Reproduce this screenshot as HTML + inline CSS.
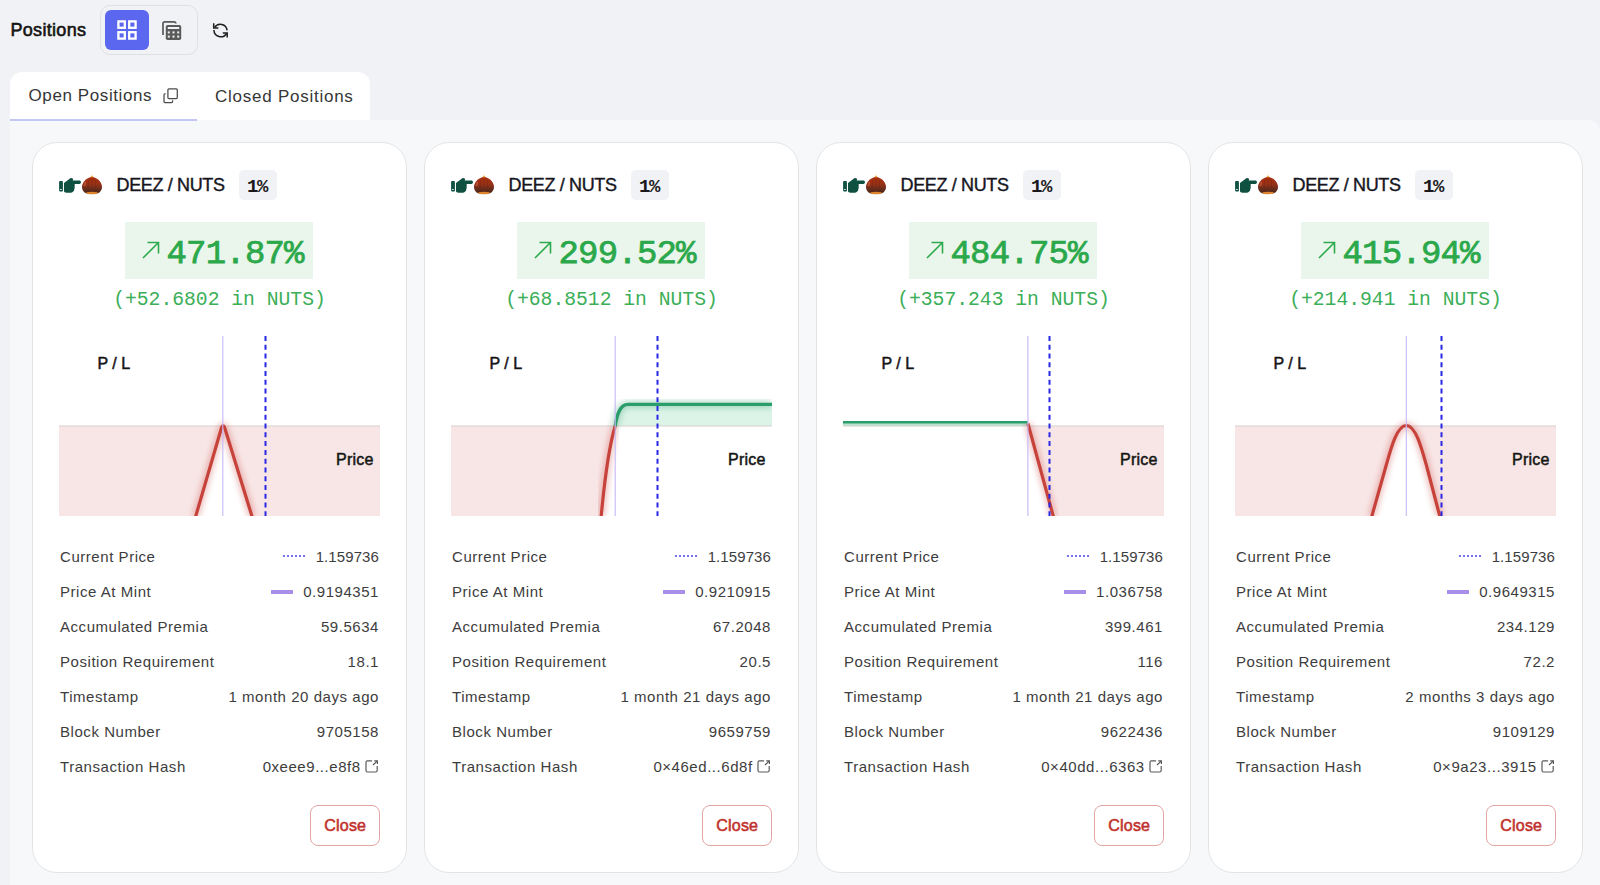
<!DOCTYPE html>
<html><head><meta charset="utf-8"><style>
*{box-sizing:border-box;margin:0;padding:0}
html,body{width:1600px;height:885px;overflow:hidden;background:#f1f2f5;font-family:"Liberation Sans",sans-serif;color:#222}
.title{position:absolute;left:10.5px;top:18px;font-size:18px;font-weight:400;-webkit-text-stroke:0.6px #141414;color:#141414;letter-spacing:0.3px;line-height:24px}
.tog{position:absolute;left:100px;top:5px;width:98px;height:50px;border:1px solid #dfe0e4;border-radius:10px}
.tog .on{position:absolute;left:4px;top:4px;width:44px;height:40px;background:#5b67ef;border-radius:6px}
.tog svg{position:absolute}
.refresh{position:absolute;left:211.5px;top:21.5px}
.tabs{position:absolute;left:10px;top:72px;width:360px;height:48px;background:#fff;border-radius:12px 12px 0 0}
.tab1{position:absolute;left:18.5px;top:13px;font-size:17px;letter-spacing:0.6px;color:#363636;line-height:22px}
.tab2{position:absolute;left:205px;top:14px;font-size:17px;letter-spacing:0.75px;color:#363636;line-height:22px}
.uline{position:absolute;left:10px;top:119px;width:187px;height:2px;background:#c3c6f7}
.panel{position:absolute;left:10px;top:120px;width:1590px;height:780px;background:#f7f8fa;border-top-right-radius:12px}
.card{position:absolute;top:142px;width:375px;height:731px;background:#fff;border:1px solid #e3e4e6;border-radius:25px}
.emo{position:absolute;left:25px;top:32px;width:48px;height:22px}
.hand{position:absolute;left:0px;top:1px}
.nut{position:absolute;left:23px;top:0px}
.pair{position:absolute;left:83.5px;top:31.5px;font-size:18px;font-weight:400;-webkit-text-stroke:0.4px #16161e;color:#16161e;line-height:20px;letter-spacing:-0.35px}
.badge{position:absolute;left:206px;top:27px;width:38px;height:30px;background:#f1f2f6;border-radius:5px}
.badge{font-family:"Liberation Mono",monospace;font-weight:700;font-size:19px;line-height:30px;text-align:center;color:#1a1a1a;letter-spacing:-1.3px;padding-right:2px;padding-top:1.5px;}
.pbox{position:absolute;left:92px;top:79px;width:188px;height:57px;background:#eaf6ec}
.arrow{position:absolute;left:16px;top:18px}
.pct{position:absolute;left:41.5px;top:14px;font-family:"Liberation Mono",monospace;font-weight:400;-webkit-text-stroke:0.75px #2aa84a;font-size:34px;line-height:36px;color:#2aa84a;letter-spacing:-0.8px}
.amt{position:absolute;left:0;width:373px;top:146px;text-align:center;font-family:"Liberation Mono",monospace;font-size:19.7px;line-height:22px;color:#3bae58}
.chartwrap{position:absolute;left:26px;top:193px;width:321px;height:180px}
.chart{position:absolute;left:0;top:0}
.pl{position:absolute;left:38.5px;top:19px;font-size:16px;font-weight:400;-webkit-text-stroke:0.5px #151515;color:#151515;line-height:18px;letter-spacing:0px}
.price{position:absolute;right:6.5px;top:114.5px;font-size:16px;font-weight:400;-webkit-text-stroke:0.5px #151515;color:#151515;line-height:18px;letter-spacing:0.2px}
.row{position:absolute;left:27px;width:319px;height:20px;font-size:15px;line-height:20px;color:#3d3d3d;letter-spacing:0.55px}
.row .lab{position:absolute;left:0;top:0;white-space:nowrap}
.row .val{position:absolute;right:0;top:0;white-space:nowrap;display:flex;align-items:center}
.dots{display:inline-block;width:23px;height:2px;margin-right:9.5px;margin-top:-1px;background-image:linear-gradient(90deg,#7474f0 50%,transparent 50%);background-size:4px 2px}
.bar{display:inline-block;width:22px;height:4px;margin-right:10px;background:#a78ee8}
.ext{margin-left:4.3px;margin-top:-2px}
.close{position:absolute;left:277px;top:662px;width:70px;height:41px;border:1px solid #e3a4a4;border-radius:8px;color:#c1302b;font-size:16px;font-weight:400;-webkit-text-stroke:0.55px #c1302b;text-align:center;line-height:40px;letter-spacing:0.2px;padding-left:0.5px}
</style></head><body>
<div class="title">Positions</div>
<div class="tog"><div class="on"></div>
<svg style="left:16px;top:14px" width="20" height="20" viewBox="0 0 20 20"><g fill="none" stroke="#fff" stroke-width="2.3"><rect x="1.4" y="1.4" width="6.4" height="6.4"/><rect x="12.2" y="1.4" width="6.4" height="6.4"/><rect x="1.4" y="12.2" width="6.4" height="6.4"/><rect x="12.2" y="12.2" width="6.4" height="6.4"/></g></svg>
<svg style="left:59.5px;top:13.5px" width="21" height="21" viewBox="0 0 21 21"><path d="M2,15 L2,3.6 Q2,1.8 3.8,1.8 L13,1.8 Q14.8,1.8 14.8,3.6" fill="none" stroke="#5a5a5a" stroke-width="1.7"/><rect x="4.8" y="5" width="15.4" height="15" rx="1.8" fill="#5a5a5a"/><rect x="6.8" y="7" width="11.4" height="2" fill="#f1f2f5"/><g fill="#f1f2f5"><rect x="6.8" y="11.4" width="2" height="2"/><rect x="11.5" y="11.4" width="2" height="2"/><rect x="16.2" y="11.4" width="2" height="2"/><rect x="6.8" y="15.6" width="2" height="2"/><rect x="11.5" y="15.6" width="2" height="2"/><rect x="16.2" y="15.6" width="2" height="2"/></g></svg>
</div>
<svg class="refresh" width="17" height="17" viewBox="0 0 17 17"><g fill="none" stroke="#1e1e1e" stroke-width="1.5"><path d="M2.6,5.4 A6.8,6.8 0 0 1 15.1,8.3"/><path d="M1.9,8.1 A6.8,6.8 0 0 0 14.6,11.3"/><path d="M1.7,1.3 L1.7,6 L6.4,6" stroke-linejoin="miter"/><path d="M10.8,11 L15.2,11 L15.2,15.6" stroke-linejoin="miter"/></g></svg>
<div class="tabs"><div class="tab1">Open Positions</div><div class="tab2">Closed Positions</div>
<svg style="position:absolute;left:153px;top:16px" width="16" height="16" viewBox="0 0 16 16"><g fill="none" stroke="#4a4a4a" stroke-width="1.25"><rect x="4.9" y="0.9" width="9.4" height="9.6" rx="1"/><path d="M2.6,5.6 Q1,5.6 1,7.2 L1,13.6 Q1,14.5 2,14.5 L8.6,14.5 Q9.6,14.5 9.6,13.5 L9.6,12.3"/></g></svg>
</div>
<div class="panel"></div>
<div class="uline"></div>
<div class="card" style="left:32px">
<div class="emo"><svg class="hand" width="24" height="20" viewBox="0 0 24 20"><g fill="#0f5141">
<rect x="1.1" y="5.1" width="3.8" height="10.3" rx="1"/>
<path d="M6,7 L11,3.2 Q13,1.2 14.8,2.6 Q15.6,3.6 14.6,4.6 L22,4.6 Q23,5.1 23,6.3 Q22.8,7.9 21.5,7.9 L16.6,7.9 Q17,9.5 16.6,10.6 Q17,12 16.3,13 Q16.5,14.6 15.2,15.6 Q14.2,16.8 12.5,16.8 L9,16.8 Q6.8,16.6 6,15.4 Z"/>
</g><rect x="1.8" y="13" width="2" height="1" fill="#fff" opacity="0.8"/></svg><svg class="nut" width="22" height="20" viewBox="0 0 22 20"><defs><linearGradient id="ng" x1="0" y1="0" x2="0" y2="1"><stop offset="0" stop-color="#ad2c0e"/><stop offset="0.45" stop-color="#963218"/><stop offset="0.8" stop-color="#5e2b1b"/><stop offset="1" stop-color="#4a271a"/></linearGradient></defs>
<path d="M11,1.5 C13,2.5 17,3.5 19,6.5 C20.5,8.5 21,10.5 21,12 C21,15.5 18.5,18.5 15,18.6 L7,18.6 C3.5,18.5 1,15.5 1,12 C1,10.5 1.5,8.5 3,6.5 C5,3.5 9,2.5 11,1.5 Z" fill="url(#ng)"/>
<path d="M4.8,17.4 Q11,16.2 17.2,17.4 Q16,19.3 11,19.3 Q6,19.3 4.8,17.4 Z" fill="#df8630"/>
<ellipse cx="11" cy="1.6" rx="1" ry="1.1" fill="#f2a43c"/>
<path d="M4.6,7 Q3.6,9 3.7,11" stroke="#e06a52" stroke-width="1.1" fill="none" opacity="0.75"/>
<path d="M7.5,5 L7.2,16.5 M14.5,5 L14.8,16.5 M11,3.5 L11,16.5" stroke="#5a1a0e" stroke-width="0.6" opacity="0.4"/>
</svg></div>
<div class="pair">DEEZ / NUTS</div>
<div class="badge">1%</div>
<div class="pbox"><svg class="arrow" width="20" height="20" viewBox="0 0 20 20"><path d="M2,18 L17.5,2.5 M6.5,2.5 L17.5,2.5 L17.5,13.5" fill="none" stroke="#2eaa4b" stroke-width="1.6"/></svg><span class="pct">471.87%</span></div>
<div class="amt">(+52.6802 in NUTS)</div>
<div class="chartwrap"><svg class="chart" width="321" height="180" viewBox="0 0 321 180"><defs><clipPath id="c1"><rect x="0" y="0" width="321" height="180"/></clipPath><filter id="blur" x="-20%" y="-20%" width="140%" height="140%"><feGaussianBlur stdDeviation="3"/></filter></defs><g clip-path="url(#c1)"><path d="M0,90 L0,180 L136.5,180 L164.10000000000002,90 L193.2,180 L321,180 L321,90 Z" fill="#f8e6e6"/><line x1="0" y1="90" x2="321" y2="90" stroke="#d9cfcf" stroke-width="1"/><path d="M136.5,181 L162.60000000000002,91.5 Q164.10000000000002,88.4 165.60000000000002,91.5 L193.2,181" fill="none" stroke="#c6423a" stroke-width="6" opacity="0.4" filter="url(#blur)"/><path d="M136.5,181 L162.60000000000002,91.5 Q164.10000000000002,88.4 165.60000000000002,91.5 L193.2,181" fill="none" stroke="#c6423a" stroke-width="3.2" stroke-linejoin="round"/><line x1="163.8" y1="0" x2="163.8" y2="180" stroke="#c6b7f6" stroke-width="1.1"/><line x1="206.5" y1="0" x2="206.5" y2="180" stroke="#2727e6" stroke-width="2" stroke-dasharray="5 3.76"/></g></svg><div class="pl">P / L</div><div class="price">Price</div></div>
<div class="row" style="top:403.5px"><span class="lab">Current Price</span><span class="val"><span class="dots"></span><span style="letter-spacing:0.1px">1.159736</span></span></div><div class="row" style="top:438.5px"><span class="lab">Price At Mint</span><span class="val"><span class="bar"></span>0.9194351</span></div><div class="row" style="top:473.5px"><span class="lab">Accumulated Premia</span><span class="val">59.5634</span></div><div class="row" style="top:508.5px"><span class="lab">Position Requirement</span><span class="val">18.1</span></div><div class="row" style="top:543.5px"><span class="lab">Timestamp</span><span class="val">1 month 20 days ago</span></div><div class="row" style="top:578.5px"><span class="lab">Block Number</span><span class="val">9705158</span></div><div class="row" style="top:613.5px"><span class="lab">Transaction Hash</span><span class="val">0xeee9...e8f8<svg class="ext" width="14" height="14" viewBox="0 0 14 14"><g fill="none" stroke="#5a5a5a" stroke-width="1.2"><path d="M7,1.9 L2.5,1.9 Q1,1.9 1,3.4 L1,11.5 Q1,13 2.5,13 L10.7,13 Q12.2,13 12.2,11.5 L12.2,7"/><path d="M9.2,1.9 L12.4,1.9 L12.4,5"/><path d="M12.2,2.1 L8,6"/></g></svg></span></div>
<div class="close">Close</div>
</div><div class="card" style="left:424px">
<div class="emo"><svg class="hand" width="24" height="20" viewBox="0 0 24 20"><g fill="#0f5141">
<rect x="1.1" y="5.1" width="3.8" height="10.3" rx="1"/>
<path d="M6,7 L11,3.2 Q13,1.2 14.8,2.6 Q15.6,3.6 14.6,4.6 L22,4.6 Q23,5.1 23,6.3 Q22.8,7.9 21.5,7.9 L16.6,7.9 Q17,9.5 16.6,10.6 Q17,12 16.3,13 Q16.5,14.6 15.2,15.6 Q14.2,16.8 12.5,16.8 L9,16.8 Q6.8,16.6 6,15.4 Z"/>
</g><rect x="1.8" y="13" width="2" height="1" fill="#fff" opacity="0.8"/></svg><svg class="nut" width="22" height="20" viewBox="0 0 22 20"><defs><linearGradient id="ng" x1="0" y1="0" x2="0" y2="1"><stop offset="0" stop-color="#ad2c0e"/><stop offset="0.45" stop-color="#963218"/><stop offset="0.8" stop-color="#5e2b1b"/><stop offset="1" stop-color="#4a271a"/></linearGradient></defs>
<path d="M11,1.5 C13,2.5 17,3.5 19,6.5 C20.5,8.5 21,10.5 21,12 C21,15.5 18.5,18.5 15,18.6 L7,18.6 C3.5,18.5 1,15.5 1,12 C1,10.5 1.5,8.5 3,6.5 C5,3.5 9,2.5 11,1.5 Z" fill="url(#ng)"/>
<path d="M4.8,17.4 Q11,16.2 17.2,17.4 Q16,19.3 11,19.3 Q6,19.3 4.8,17.4 Z" fill="#df8630"/>
<ellipse cx="11" cy="1.6" rx="1" ry="1.1" fill="#f2a43c"/>
<path d="M4.6,7 Q3.6,9 3.7,11" stroke="#e06a52" stroke-width="1.1" fill="none" opacity="0.75"/>
<path d="M7.5,5 L7.2,16.5 M14.5,5 L14.8,16.5 M11,3.5 L11,16.5" stroke="#5a1a0e" stroke-width="0.6" opacity="0.4"/>
</svg></div>
<div class="pair">DEEZ / NUTS</div>
<div class="badge">1%</div>
<div class="pbox"><svg class="arrow" width="20" height="20" viewBox="0 0 20 20"><path d="M2,18 L17.5,2.5 M6.5,2.5 L17.5,2.5 L17.5,13.5" fill="none" stroke="#2eaa4b" stroke-width="1.6"/></svg><span class="pct">299.52%</span></div>
<div class="amt">(+68.8512 in NUTS)</div>
<div class="chartwrap"><svg class="chart" width="321" height="180" viewBox="0 0 321 180"><defs><clipPath id="c2"><rect x="0" y="0" width="321" height="180"/></clipPath><filter id="blur" x="-20%" y="-20%" width="140%" height="140%"><feGaussianBlur stdDeviation="3"/></filter></defs><g clip-path="url(#c2)"><path d="M0,90 L0,180 L150.1,181 C153,150 157.5,112 164.2,90 Z" fill="#f8e6e6"/><path d="M164.2,90 C166,78 169,68.3 177,68.3 L321,68.3 L321,90 Z" fill="#dcf3e8"/><line x1="0" y1="90" x2="321" y2="90" stroke="#d9cfcf" stroke-width="1"/><path d="M150.1,181 C153,150 157.5,112 164.2,90" fill="none" stroke="#c6423a" stroke-width="6" opacity="0.4" filter="url(#blur)"/><path d="M164.2,90 C166,78 169,68.3 177,68.3 L321,68.3" fill="none" stroke="#2a9d6b" stroke-width="6" opacity="0.4" filter="url(#blur)"/><path d="M150.1,181 C153,150 157.5,112 164.2,90" fill="none" stroke="#c6423a" stroke-width="3.2"/><path d="M164.2,90 C166,78 169,68.3 177,68.3 L321,68.3" fill="none" stroke="#2a9d6b" stroke-width="3.3"/><line x1="164.2" y1="0" x2="164.2" y2="180" stroke="#c6b7f6" stroke-width="1.1"/><line x1="206.5" y1="0" x2="206.5" y2="180" stroke="#2727e6" stroke-width="2" stroke-dasharray="5 3.76"/></g></svg><div class="pl">P / L</div><div class="price">Price</div></div>
<div class="row" style="top:403.5px"><span class="lab">Current Price</span><span class="val"><span class="dots"></span><span style="letter-spacing:0.1px">1.159736</span></span></div><div class="row" style="top:438.5px"><span class="lab">Price At Mint</span><span class="val"><span class="bar"></span>0.9210915</span></div><div class="row" style="top:473.5px"><span class="lab">Accumulated Premia</span><span class="val">67.2048</span></div><div class="row" style="top:508.5px"><span class="lab">Position Requirement</span><span class="val">20.5</span></div><div class="row" style="top:543.5px"><span class="lab">Timestamp</span><span class="val">1 month 21 days ago</span></div><div class="row" style="top:578.5px"><span class="lab">Block Number</span><span class="val">9659759</span></div><div class="row" style="top:613.5px"><span class="lab">Transaction Hash</span><span class="val">0×46ed...6d8f<svg class="ext" width="14" height="14" viewBox="0 0 14 14"><g fill="none" stroke="#5a5a5a" stroke-width="1.2"><path d="M7,1.9 L2.5,1.9 Q1,1.9 1,3.4 L1,11.5 Q1,13 2.5,13 L10.7,13 Q12.2,13 12.2,11.5 L12.2,7"/><path d="M9.2,1.9 L12.4,1.9 L12.4,5"/><path d="M12.2,2.1 L8,6"/></g></svg></span></div>
<div class="close">Close</div>
</div><div class="card" style="left:816px">
<div class="emo"><svg class="hand" width="24" height="20" viewBox="0 0 24 20"><g fill="#0f5141">
<rect x="1.1" y="5.1" width="3.8" height="10.3" rx="1"/>
<path d="M6,7 L11,3.2 Q13,1.2 14.8,2.6 Q15.6,3.6 14.6,4.6 L22,4.6 Q23,5.1 23,6.3 Q22.8,7.9 21.5,7.9 L16.6,7.9 Q17,9.5 16.6,10.6 Q17,12 16.3,13 Q16.5,14.6 15.2,15.6 Q14.2,16.8 12.5,16.8 L9,16.8 Q6.8,16.6 6,15.4 Z"/>
</g><rect x="1.8" y="13" width="2" height="1" fill="#fff" opacity="0.8"/></svg><svg class="nut" width="22" height="20" viewBox="0 0 22 20"><defs><linearGradient id="ng" x1="0" y1="0" x2="0" y2="1"><stop offset="0" stop-color="#ad2c0e"/><stop offset="0.45" stop-color="#963218"/><stop offset="0.8" stop-color="#5e2b1b"/><stop offset="1" stop-color="#4a271a"/></linearGradient></defs>
<path d="M11,1.5 C13,2.5 17,3.5 19,6.5 C20.5,8.5 21,10.5 21,12 C21,15.5 18.5,18.5 15,18.6 L7,18.6 C3.5,18.5 1,15.5 1,12 C1,10.5 1.5,8.5 3,6.5 C5,3.5 9,2.5 11,1.5 Z" fill="url(#ng)"/>
<path d="M4.8,17.4 Q11,16.2 17.2,17.4 Q16,19.3 11,19.3 Q6,19.3 4.8,17.4 Z" fill="#df8630"/>
<ellipse cx="11" cy="1.6" rx="1" ry="1.1" fill="#f2a43c"/>
<path d="M4.6,7 Q3.6,9 3.7,11" stroke="#e06a52" stroke-width="1.1" fill="none" opacity="0.75"/>
<path d="M7.5,5 L7.2,16.5 M14.5,5 L14.8,16.5 M11,3.5 L11,16.5" stroke="#5a1a0e" stroke-width="0.6" opacity="0.4"/>
</svg></div>
<div class="pair">DEEZ / NUTS</div>
<div class="badge">1%</div>
<div class="pbox"><svg class="arrow" width="20" height="20" viewBox="0 0 20 20"><path d="M2,18 L17.5,2.5 M6.5,2.5 L17.5,2.5 L17.5,13.5" fill="none" stroke="#2eaa4b" stroke-width="1.6"/></svg><span class="pct">484.75%</span></div>
<div class="amt">(+357.243 in NUTS)</div>
<div class="chartwrap"><svg class="chart" width="321" height="180" viewBox="0 0 321 180"><defs><clipPath id="c3"><rect x="0" y="0" width="321" height="180"/></clipPath><filter id="blur" x="-20%" y="-20%" width="140%" height="140%"><feGaussianBlur stdDeviation="3"/></filter></defs><g clip-path="url(#c3)"><path d="M184.9,90 L210.3,180 L321,180 L321,90 Z" fill="#f8e6e6"/><path d="M0,86.2 L184.9,86.2 L184.9,90 L0,90 Z" fill="#b8e4cf"/><line x1="0" y1="90" x2="321" y2="90" stroke="#d9cfcf" stroke-width="1"/><path d="M184.9,87.5 L210.5,181" fill="none" stroke="#c6423a" stroke-width="6" opacity="0.4" filter="url(#blur)"/><path d="M184.9,87.5 L210.5,181" fill="none" stroke="#c6423a" stroke-width="3.2"/><path d="M0,86.2 L184.9,86.2" fill="none" stroke="#2a9d6b" stroke-width="2.4"/><line x1="184.9" y1="0" x2="184.9" y2="180" stroke="#c6b7f6" stroke-width="1.1"/><line x1="206.5" y1="0" x2="206.5" y2="180" stroke="#2727e6" stroke-width="2" stroke-dasharray="5 3.76"/></g></svg><div class="pl">P / L</div><div class="price">Price</div></div>
<div class="row" style="top:403.5px"><span class="lab">Current Price</span><span class="val"><span class="dots"></span><span style="letter-spacing:0.1px">1.159736</span></span></div><div class="row" style="top:438.5px"><span class="lab">Price At Mint</span><span class="val"><span class="bar"></span>1.036758</span></div><div class="row" style="top:473.5px"><span class="lab">Accumulated Premia</span><span class="val">399.461</span></div><div class="row" style="top:508.5px"><span class="lab">Position Requirement</span><span class="val">116</span></div><div class="row" style="top:543.5px"><span class="lab">Timestamp</span><span class="val">1 month 21 days ago</span></div><div class="row" style="top:578.5px"><span class="lab">Block Number</span><span class="val">9622436</span></div><div class="row" style="top:613.5px"><span class="lab">Transaction Hash</span><span class="val">0×40dd...6363<svg class="ext" width="14" height="14" viewBox="0 0 14 14"><g fill="none" stroke="#5a5a5a" stroke-width="1.2"><path d="M7,1.9 L2.5,1.9 Q1,1.9 1,3.4 L1,11.5 Q1,13 2.5,13 L10.7,13 Q12.2,13 12.2,11.5 L12.2,7"/><path d="M9.2,1.9 L12.4,1.9 L12.4,5"/><path d="M12.2,2.1 L8,6"/></g></svg></span></div>
<div class="close">Close</div>
</div><div class="card" style="left:1208px">
<div class="emo"><svg class="hand" width="24" height="20" viewBox="0 0 24 20"><g fill="#0f5141">
<rect x="1.1" y="5.1" width="3.8" height="10.3" rx="1"/>
<path d="M6,7 L11,3.2 Q13,1.2 14.8,2.6 Q15.6,3.6 14.6,4.6 L22,4.6 Q23,5.1 23,6.3 Q22.8,7.9 21.5,7.9 L16.6,7.9 Q17,9.5 16.6,10.6 Q17,12 16.3,13 Q16.5,14.6 15.2,15.6 Q14.2,16.8 12.5,16.8 L9,16.8 Q6.8,16.6 6,15.4 Z"/>
</g><rect x="1.8" y="13" width="2" height="1" fill="#fff" opacity="0.8"/></svg><svg class="nut" width="22" height="20" viewBox="0 0 22 20"><defs><linearGradient id="ng" x1="0" y1="0" x2="0" y2="1"><stop offset="0" stop-color="#ad2c0e"/><stop offset="0.45" stop-color="#963218"/><stop offset="0.8" stop-color="#5e2b1b"/><stop offset="1" stop-color="#4a271a"/></linearGradient></defs>
<path d="M11,1.5 C13,2.5 17,3.5 19,6.5 C20.5,8.5 21,10.5 21,12 C21,15.5 18.5,18.5 15,18.6 L7,18.6 C3.5,18.5 1,15.5 1,12 C1,10.5 1.5,8.5 3,6.5 C5,3.5 9,2.5 11,1.5 Z" fill="url(#ng)"/>
<path d="M4.8,17.4 Q11,16.2 17.2,17.4 Q16,19.3 11,19.3 Q6,19.3 4.8,17.4 Z" fill="#df8630"/>
<ellipse cx="11" cy="1.6" rx="1" ry="1.1" fill="#f2a43c"/>
<path d="M4.6,7 Q3.6,9 3.7,11" stroke="#e06a52" stroke-width="1.1" fill="none" opacity="0.75"/>
<path d="M7.5,5 L7.2,16.5 M14.5,5 L14.8,16.5 M11,3.5 L11,16.5" stroke="#5a1a0e" stroke-width="0.6" opacity="0.4"/>
</svg></div>
<div class="pair">DEEZ / NUTS</div>
<div class="badge">1%</div>
<div class="pbox"><svg class="arrow" width="20" height="20" viewBox="0 0 20 20"><path d="M2,18 L17.5,2.5 M6.5,2.5 L17.5,2.5 L17.5,13.5" fill="none" stroke="#2eaa4b" stroke-width="1.6"/></svg><span class="pct">415.94%</span></div>
<div class="amt">(+214.941 in NUTS)</div>
<div class="chartwrap"><svg class="chart" width="321" height="180" viewBox="0 0 321 180"><defs><clipPath id="c4"><rect x="0" y="0" width="321" height="180"/></clipPath><filter id="blur" x="-20%" y="-20%" width="140%" height="140%"><feGaussianBlur stdDeviation="3"/></filter></defs><g clip-path="url(#c4)"><path d="M0,90 L0,180 L136.6,180 L151,130 C156,112 162,89.5 171.3,89.5 C180.6,89.5 186.6,112 191.6,130 L205,180 L321,180 L321,90 Z" fill="#f8e6e6"/><line x1="0" y1="90" x2="321" y2="90" stroke="#d9cfcf" stroke-width="1"/><path d="M136.6,181 L151,130 C156,112 162,89.5 171.3,89.5 C180.6,89.5 186.6,112 191.6,130 L205,181" fill="none" stroke="#c6423a" stroke-width="6" opacity="0.4" filter="url(#blur)"/><path d="M136.6,181 L151,130 C156,112 162,89.5 171.3,89.5 C180.6,89.5 186.6,112 191.6,130 L205,181" fill="none" stroke="#c6423a" stroke-width="3.2"/><line x1="171.3" y1="0" x2="171.3" y2="180" stroke="#c6b7f6" stroke-width="1.1"/><line x1="206.5" y1="0" x2="206.5" y2="180" stroke="#2727e6" stroke-width="2" stroke-dasharray="5 3.76"/></g></svg><div class="pl">P / L</div><div class="price">Price</div></div>
<div class="row" style="top:403.5px"><span class="lab">Current Price</span><span class="val"><span class="dots"></span><span style="letter-spacing:0.1px">1.159736</span></span></div><div class="row" style="top:438.5px"><span class="lab">Price At Mint</span><span class="val"><span class="bar"></span>0.9649315</span></div><div class="row" style="top:473.5px"><span class="lab">Accumulated Premia</span><span class="val">234.129</span></div><div class="row" style="top:508.5px"><span class="lab">Position Requirement</span><span class="val">72.2</span></div><div class="row" style="top:543.5px"><span class="lab">Timestamp</span><span class="val">2 months 3 days ago</span></div><div class="row" style="top:578.5px"><span class="lab">Block Number</span><span class="val">9109129</span></div><div class="row" style="top:613.5px"><span class="lab">Transaction Hash</span><span class="val">0×9a23...3915<svg class="ext" width="14" height="14" viewBox="0 0 14 14"><g fill="none" stroke="#5a5a5a" stroke-width="1.2"><path d="M7,1.9 L2.5,1.9 Q1,1.9 1,3.4 L1,11.5 Q1,13 2.5,13 L10.7,13 Q12.2,13 12.2,11.5 L12.2,7"/><path d="M9.2,1.9 L12.4,1.9 L12.4,5"/><path d="M12.2,2.1 L8,6"/></g></svg></span></div>
<div class="close">Close</div>
</div>
</body></html>
